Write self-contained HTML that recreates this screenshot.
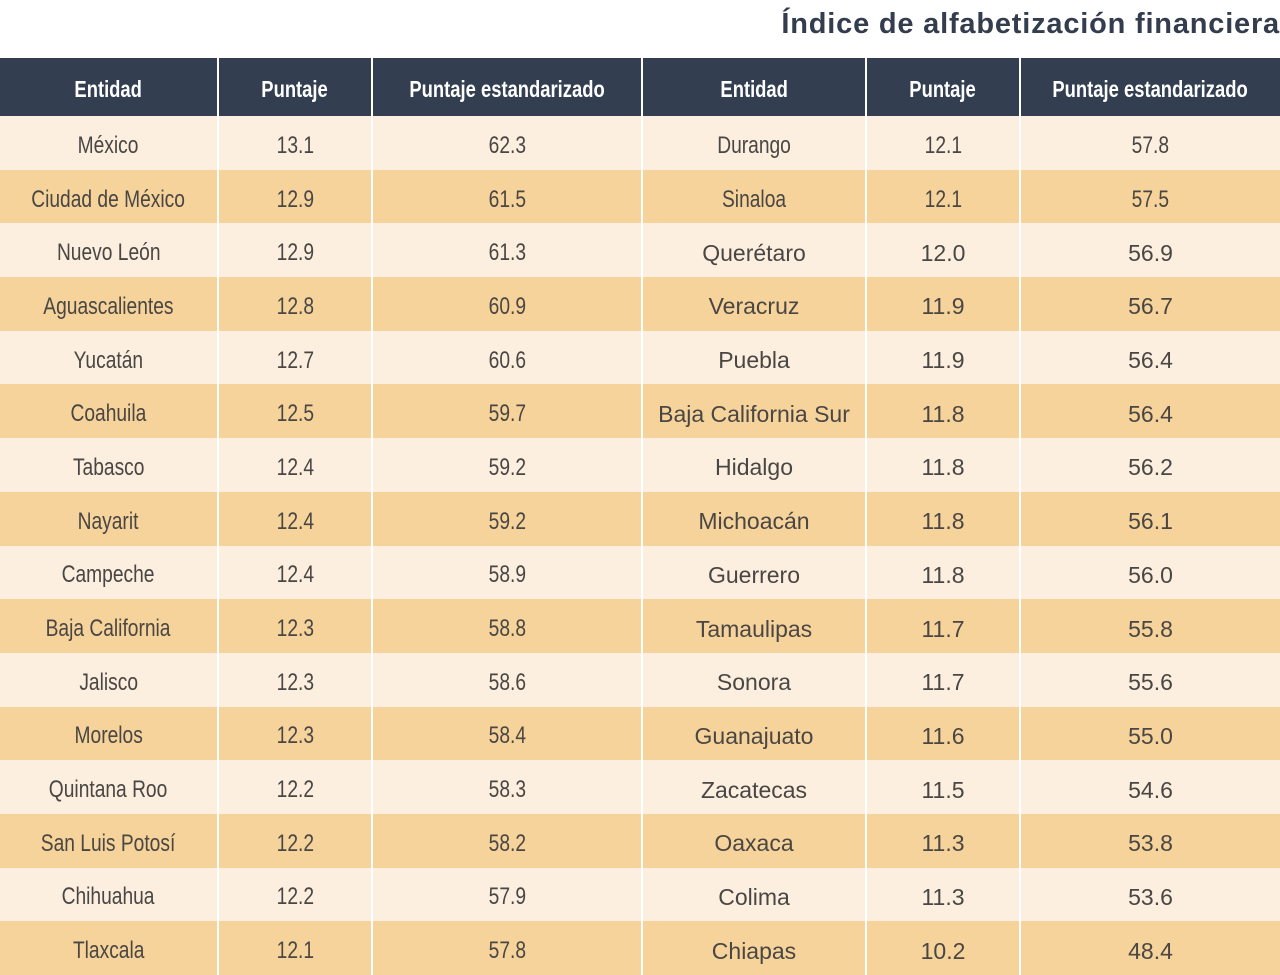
<!DOCTYPE html>
<html><head><meta charset="utf-8"><style>
html,body{margin:0;padding:0;background:#fff;width:1280px;height:975px;overflow:hidden;font-family:"Liberation Sans",sans-serif;}
.title{position:absolute;right:0;top:8px;font-size:29px;font-weight:bold;color:#333d4d;white-space:nowrap;letter-spacing:0.8px}
table{position:absolute;left:0;top:58px;width:1280px;border-collapse:collapse;table-layout:fixed}
td,th{text-align:center;padding:0;border-left:2px solid #fff;color:#4a4643;font-weight:normal;overflow:hidden;white-space:nowrap}
td:first-child,th:first-child{border-left:none}
th{background:#333f51;color:#fff;height:58px;font-weight:bold;font-size:23px;padding-top:4px;box-sizing:border-box}
th span{display:inline-block;transform:scaleX(0.8)}
td{height:53.7px;font-size:23px;padding-top:6px;box-sizing:border-box}
td.n span{display:inline-block;transform:scaleX(0.8);font-size:24px}
tr.l td{background:#fcefdf}
tr.o td{background:#f5d39b}
</style></head><body>
<div class="title">Índice de alfabetización financiera</div>
<table>
<colgroup><col style="width:218px"><col style="width:154px"><col style="width:270px"><col style="width:224px"><col style="width:154px"><col style="width:260px"></colgroup>
<tr><th><span>Entidad</span></th><th><span>Puntaje</span></th><th><span>Puntaje estandarizado</span></th><th><span>Entidad</span></th><th><span>Puntaje</span></th><th><span>Puntaje estandarizado</span></th></tr>
<tr class="l"><td class="n"><span>México</span></td><td class="n"><span>13.1</span></td><td class="n"><span>62.3</span></td><td class="n"><span>Durango</span></td><td class="n"><span>12.1</span></td><td class="n"><span>57.8</span></td></tr>
<tr class="o"><td class="n"><span>Ciudad de México</span></td><td class="n"><span>12.9</span></td><td class="n"><span>61.5</span></td><td class="n"><span>Sinaloa</span></td><td class="n"><span>12.1</span></td><td class="n"><span>57.5</span></td></tr>
<tr class="l"><td class="n"><span>Nuevo León</span></td><td class="n"><span>12.9</span></td><td class="n"><span>61.3</span></td><td>Querétaro</td><td>12.0</td><td>56.9</td></tr>
<tr class="o"><td class="n"><span>Aguascalientes</span></td><td class="n"><span>12.8</span></td><td class="n"><span>60.9</span></td><td>Veracruz</td><td>11.9</td><td>56.7</td></tr>
<tr class="l"><td class="n"><span>Yucatán</span></td><td class="n"><span>12.7</span></td><td class="n"><span>60.6</span></td><td>Puebla</td><td>11.9</td><td>56.4</td></tr>
<tr class="o"><td class="n"><span>Coahuila</span></td><td class="n"><span>12.5</span></td><td class="n"><span>59.7</span></td><td>Baja California Sur</td><td>11.8</td><td>56.4</td></tr>
<tr class="l"><td class="n"><span>Tabasco</span></td><td class="n"><span>12.4</span></td><td class="n"><span>59.2</span></td><td>Hidalgo</td><td>11.8</td><td>56.2</td></tr>
<tr class="o"><td class="n"><span>Nayarit</span></td><td class="n"><span>12.4</span></td><td class="n"><span>59.2</span></td><td>Michoacán</td><td>11.8</td><td>56.1</td></tr>
<tr class="l"><td class="n"><span>Campeche</span></td><td class="n"><span>12.4</span></td><td class="n"><span>58.9</span></td><td>Guerrero</td><td>11.8</td><td>56.0</td></tr>
<tr class="o"><td class="n"><span>Baja California</span></td><td class="n"><span>12.3</span></td><td class="n"><span>58.8</span></td><td>Tamaulipas</td><td>11.7</td><td>55.8</td></tr>
<tr class="l"><td class="n"><span>Jalisco</span></td><td class="n"><span>12.3</span></td><td class="n"><span>58.6</span></td><td>Sonora</td><td>11.7</td><td>55.6</td></tr>
<tr class="o"><td class="n"><span>Morelos</span></td><td class="n"><span>12.3</span></td><td class="n"><span>58.4</span></td><td>Guanajuato</td><td>11.6</td><td>55.0</td></tr>
<tr class="l"><td class="n"><span>Quintana Roo</span></td><td class="n"><span>12.2</span></td><td class="n"><span>58.3</span></td><td>Zacatecas</td><td>11.5</td><td>54.6</td></tr>
<tr class="o"><td class="n"><span>San Luis Potosí</span></td><td class="n"><span>12.2</span></td><td class="n"><span>58.2</span></td><td>Oaxaca</td><td>11.3</td><td>53.8</td></tr>
<tr class="l"><td class="n"><span>Chihuahua</span></td><td class="n"><span>12.2</span></td><td class="n"><span>57.9</span></td><td>Colima</td><td>11.3</td><td>53.6</td></tr>
<tr class="o"><td class="n"><span>Tlaxcala</span></td><td class="n"><span>12.1</span></td><td class="n"><span>57.8</span></td><td>Chiapas</td><td>10.2</td><td>48.4</td></tr>
</table>
</body></html>
